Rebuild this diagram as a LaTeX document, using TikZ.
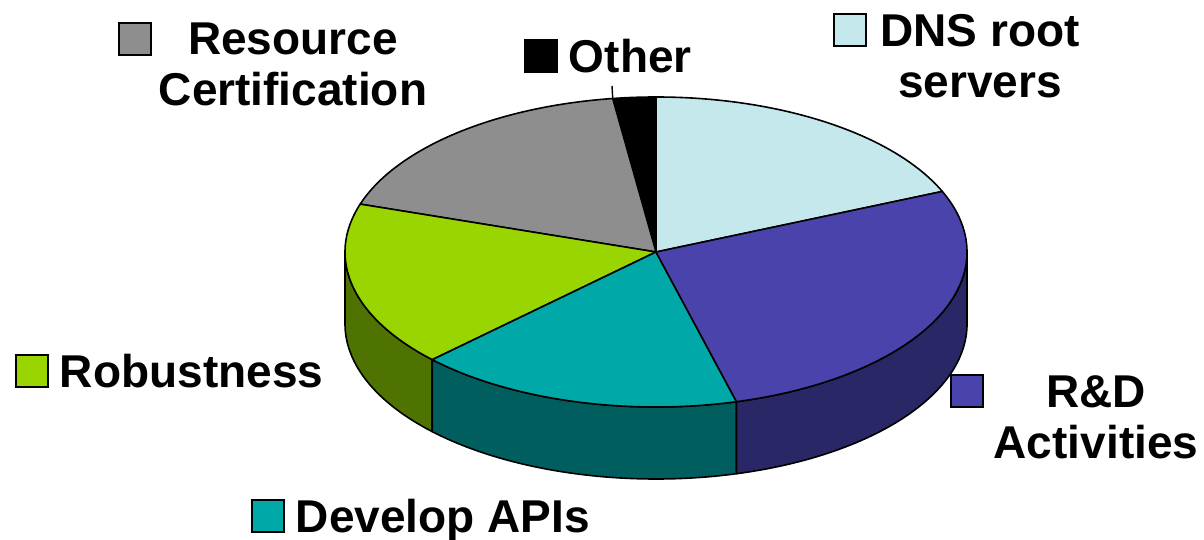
\documentclass[tikz,border=0pt]{standalone}
\usepackage{fontspec}
\setmainfont{Liberation Sans}
\usetikzlibrary{positioning}
\definecolor{dnsblue}{HTML}{C4E8EC}
\definecolor{rdpurple}{HTML}{4A43AB}
\definecolor{rdpurpledark}{HTML}{2A2766}
\definecolor{apiteal}{HTML}{00A9A8}
\definecolor{apitealdark}{HTML}{005F5E}
\definecolor{robgreen}{HTML}{99D500}
\definecolor{robgreendark}{HTML}{4F7300}
\definecolor{certgray}{HTML}{8E8E8E}
\begin{document}
\begin{tikzpicture}[x=1pt, y=1pt,
  key/.style = {draw, line width=1.4pt, minimum width=32pt, minimum height=32pt, inner sep=0pt},
  lbl/.style = {font=\fontsize{46}{51}\selectfont\bfseries, align=center, inner sep=0pt},
  slice/.style = {draw, line width=1.6pt, line join=round}]
\useasboundingbox (0,0) rectangle (1204,540);
\coordinate (c) at (656,288);
% side wall
\draw[slice, fill=robgreendark] (c) ++(180:311 and 155) arc[start angle=180, end angle=224, x radius=311, y radius=155] -- ++(0,-72) arc[start angle=224, end angle=180, x radius=311, y radius=155] -- cycle;
\draw[slice, fill=apitealdark] (c) ++(224:311 and 155) arc[start angle=224, end angle=285, x radius=311, y radius=155] -- ++(0,-72) arc[start angle=285, end angle=224, x radius=311, y radius=155] -- cycle;
\draw[slice, fill=rdpurpledark] (c) ++(285:311 and 155) arc[start angle=285, end angle=360, x radius=311, y radius=155] -- ++(0,-72) arc[start angle=360, end angle=285, x radius=311, y radius=155] -- cycle;
% top
\draw[slice, fill=dnsblue] (c) -- ++(23:311 and 155) arc[start angle=23, end angle=90, x radius=311, y radius=155] -- cycle;
\draw[slice, fill=black] (c) -- ++(90:311 and 155) arc[start angle=90, end angle=98, x radius=311, y radius=155] -- cycle;
\draw[slice, fill=certgray] (c) -- ++(98:311 and 155) arc[start angle=98, end angle=162, x radius=311, y radius=155] -- cycle;
\draw[slice, fill=robgreen] (c) -- ++(162:311 and 155) arc[start angle=162, end angle=224, x radius=311, y radius=155] -- cycle;
\draw[slice, fill=apiteal] (c) -- ++(224:311 and 155) arc[start angle=224, end angle=285, x radius=311, y radius=155] -- cycle;
\draw[slice, fill=rdpurple] (c) -- ++(285:311 and 155) arc[start angle=285, end angle=383, x radius=311, y radius=155] -- cycle;
\path (c) ++(98:311 and 155) coordinate (rim);
\coordinate (tick) at (612,454);
\draw[line width=1.4pt] (rim) -- (tick);
% legend
\node[key, fill=certgray] (k1) at (135,501) {};
\node[lbl, anchor=north] (t1) at (293,517) {Resource\\Certification};
\node[key, fill=black] (k2) at (541,484) {};
\node[lbl, right=11pt of k2.south east, anchor=base west] (t2) {Other};
\node[key, fill=dnsblue] (k3) at (850,510) {};
\node[lbl, anchor=north] (t3) at (980,526) {DNS root\\servers};
\node[key, fill=robgreen] (k4) at (32,169) {};
\node[lbl, right=11pt of k4.south east, anchor=base west] (t4) {Robustness};
\node[key, fill=apiteal] (k5) at (268,24) {};
\node[lbl, right=11pt of k5.south east, anchor=base west] (t5) {Develop APIs};
\node[key, fill=rdpurple] (k6) at (967,149) {};
\node[lbl, anchor=north] (t6) at (1096,165) {R\&D\\Activities};
\end{tikzpicture}
\end{document}
